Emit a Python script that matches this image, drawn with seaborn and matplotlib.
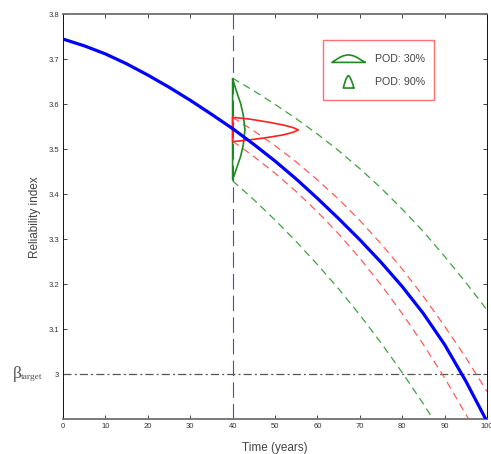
import numpy as np
import pandas as pd
import matplotlib
matplotlib.use('Agg')
import matplotlib.pyplot as plt
import seaborn as sns
from matplotlib.lines import Line2D
from matplotlib.legend_handler import HandlerBase
from matplotlib import transforms

# mean reliability index over time (blue)
t_mean = [0, 5, 10, 15, 20, 25, 30, 35, 40, 45, 50, 55, 60, 65, 70, 75, 80, 85, 90, 95, 100]
beta_mean = [3.745, 3.730, 3.712, 3.690, 3.665, 3.638, 3.609, 3.578, 3.546, 3.511, 3.474,
             3.434, 3.391, 3.346, 3.299, 3.249, 3.195, 3.135, 3.066, 2.985, 2.895]

# bounds after inspection with POD 30% (green) and POD 90% (red)
t_green_up = [40, 45, 50, 55, 60, 65, 70, 75, 80, 85, 90, 95, 100]
beta_green_up = [3.658, 3.630, 3.600, 3.568, 3.534, 3.497, 3.457, 3.414, 3.367, 3.317,
                 3.262, 3.204, 3.143]
t_green_lo = [40, 45, 50, 55, 60, 65, 70, 75, 80, 85, 87.3]
beta_green_lo = [3.430, 3.388, 3.343, 3.295, 3.244, 3.190, 3.132, 3.070, 3.004, 2.934, 2.900]
t_red_up = [40, 45, 50, 55, 60, 65, 70, 75, 80, 85, 90, 95, 100]
beta_red_up = [3.571, 3.541, 3.508, 3.472, 3.432, 3.389, 3.342, 3.290, 3.234, 3.173, 3.107,
               3.037, 2.962]
t_red_lo = [40, 45, 50, 55, 60, 65, 70, 75, 80, 85, 90, 96]
beta_red_lo = [3.518, 3.484, 3.447, 3.406, 3.361, 3.312, 3.258, 3.199, 3.135, 3.066, 2.992, 2.895]

# updated pdfs at the inspection time (offset in years from t=40)
t_insp = 40
pdf30_beta = [3.657, 3.628, 3.602, 3.576, 3.543, 3.510, 3.484, 3.458, 3.432]
pdf30_off = [0, 0.94, 1.89, 2.52, 2.91, 2.52, 1.89, 0.94, 0]
pdf90_beta = [3.571, 3.567, 3.561, 3.554, 3.548, 3.543, 3.538, 3.532, 3.526, 3.521, 3.517]
pdf90_off = [0, 4.09, 8.03, 11.96, 14.32, 15.5, 14.32, 11.96, 8.03, 4.09, 0]

beta_target = 3.0
xticks = list(range(0, 101, 10))
yticks = [3.0, 3.1, 3.2, 3.3, 3.4, 3.5, 3.6, 3.7, 3.8]
ytick_labels = ['3', '3.1', '3.2', '3.3', '3.4', '3.5', '3.6', '3.7', '3.8']
legend_labels = ['POD: 30%', 'POD: 90%']

sns.set_style('ticks')
plt.rcParams['font.family'] = ['Liberation Sans', 'DejaVu Sans']

fig = plt.figure(figsize=(4.91, 4.54), dpi=100)
ax = fig.add_axes([63 / 491, 1 - 419.3 / 454, (487 - 63) / 491, (419.3 - 14.3) / 454])

green = '#3ea33e'
red = '#ff5a5a'

# inspection time
ax.axvline(t_insp, color='#4646e0', lw=0.8, dashes=(14, 5.5), zorder=1)
# target level
ax.axhline(beta_target, color='#555555', lw=0.9, dashes=(6.5, 2.5, 1.6, 2.5), zorder=1)

for tt, bb, c in [(t_green_up, beta_green_up, green), (t_green_lo, beta_green_lo, green),
                  (t_red_up, beta_red_up, red), (t_red_lo, beta_red_lo, red)]:
    sns.lineplot(x=tt, y=bb, ax=ax, color=c, lw=0.9, estimator=None,
                 sort=False, linestyle=(0, (6, 4)))

# pdfs drawn sideways from the inspection line (closed shapes)
pdf30 = pd.DataFrame({'t': [t_insp + o for o in pdf30_off] + [t_insp],
                      'b': pdf30_beta + [pdf30_beta[0]]})
pdf90 = pd.DataFrame({'t': [t_insp + o for o in pdf90_off] + [t_insp],
                      'b': pdf90_beta + [pdf90_beta[0]]})
sns.lineplot(data=pdf30, x='t', y='b', ax=ax, color='#1f8a1f', lw=1.2, sort=False, estimator=None)
sns.lineplot(data=pdf90, x='t', y='b', ax=ax, color='#ff2020', lw=1.2, sort=False, estimator=None)

sns.lineplot(x=t_mean, y=beta_mean, ax=ax, color='#0000ff', lw=2.3, estimator=None, zorder=5)

ax.set_xlim(0, 100)
ax.set_ylim(2.9, 3.8)
ax.set_xticks(xticks)
ax.set_xticklabels([str(x) for x in xticks])
ax.set_yticks(yticks)
ax.set_yticklabels(ytick_labels)
ax.tick_params(direction='in', length=3, width=0.6, labelsize=5.5, labelcolor='#333333',
               top=True, right=True, pad=3)
for s in ['left', 'right']:
    ax.spines[s].set_color('#111111')
    ax.spines[s].set_linewidth(0.7)
for s in ['top', 'bottom']:
    ax.spines[s].set_color('#707070')
    ax.spines[s].set_linewidth(1.3)

ax.set_xlabel('Time (years)', fontsize=8.5, color='#444444', labelpad=8)
ax.set_ylabel('Reliability index', fontsize=8.5, color='#444444', labelpad=5)

# beta_target label, serif, left of the axis
trans = transforms.blended_transform_factory(ax.transAxes, ax.transData)
ax.text(-0.118, beta_target, 'β', transform=trans, ha='left', va='center',
        fontsize=12.5, color='#555555', family=['Liberation Serif', 'DejaVu Serif'])
ax.text(-0.099, beta_target - 0.007, 'target', transform=trans, ha='left', va='center',
        fontsize=6.8, color='#555555', family=['Liberation Serif', 'DejaVu Serif'])


class PdfHandler(HandlerBase):
    def __init__(self, offs, vals, w, h):
        super().__init__()
        self.offs = np.array(offs)
        self.vals = np.array(vals)
        self.w = w
        self.h = h

    def create_artists(self, legend, orig_handle, xdescent, ydescent, width, height, fontsize, trans):
        v = (self.vals - self.vals.min()) / (self.vals.max() - self.vals.min())
        o = self.offs / self.offs.max()
        cx = width / 2 - xdescent
        cy = height / 2 - ydescent
        xs = cx + (v - 0.5) * self.w
        ys = cy - self.h / 2 + o * self.h
        xs = np.append(xs, xs[0])
        ys = np.append(ys, ys[0])
        line = Line2D(xs, ys, color='#1f8a1f', lw=1.2, transform=trans)
        return [line]


h1 = Line2D([], [])
h2 = Line2D([], [], ls='--')
leg = ax.legend([h1, h2], legend_labels,
                handler_map={h1: PdfHandler(pdf30_off, pdf30_beta, 24, 5.5),
                             h2: PdfHandler(pdf90_off, pdf90_beta, 7.5, 9)},
                loc='upper left', bbox_to_anchor=(0.613, 0.9365), borderaxespad=0,
                fontsize=7.7, handlelength=3.2, handleheight=2.5, handletextpad=0.9,
                borderpad=0.8, labelspacing=0.3, fancybox=False, framealpha=1)
leg.get_frame().set_edgecolor('#ff7070')
leg.get_frame().set_linewidth(1.0)
for txt in leg.get_texts():
    txt.set_color('#444444')

plt.savefig('out.png', dpi=100)
